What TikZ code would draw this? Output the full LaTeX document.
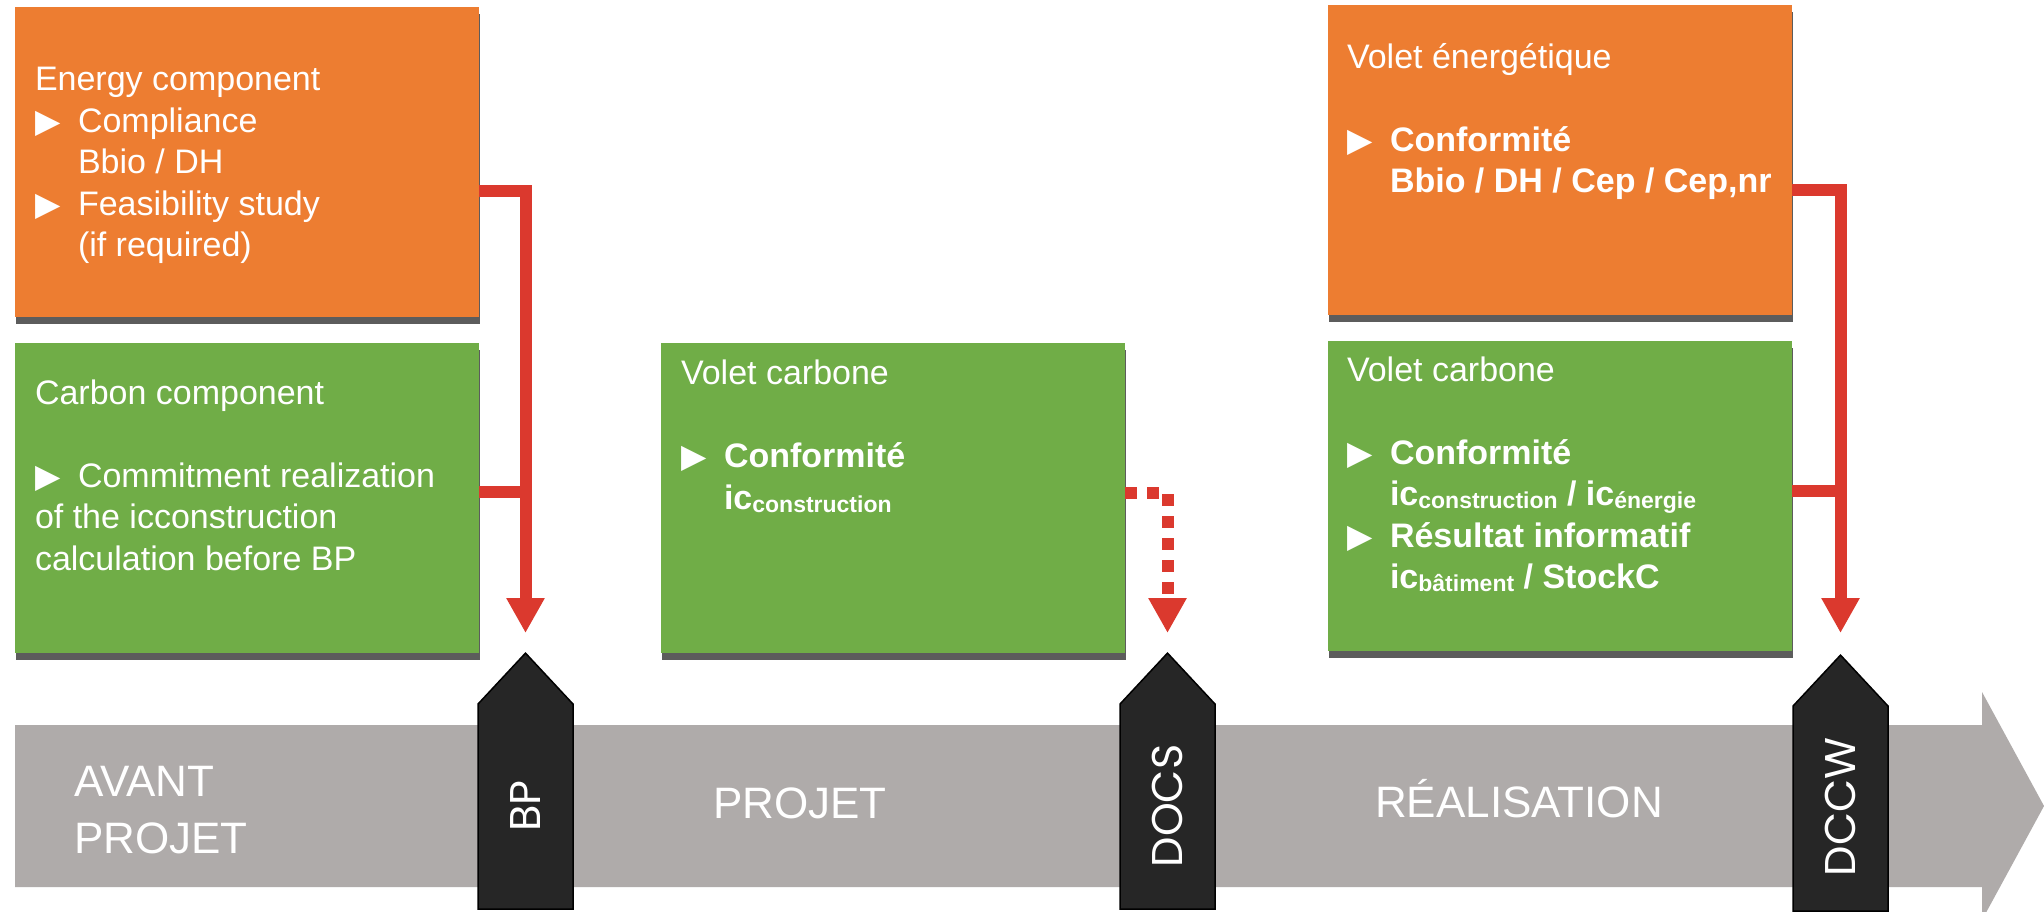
\documentclass[tikz,border=0pt]{standalone}
\usepackage{fontspec}
\setmainfont{Liberation Sans}
\newfontfamily\symfont{DejaVu Sans}
\newfontfamily\markerfont{Poppins}
\usetikzlibrary{arrows.meta,shapes.arrows,shadows}

\definecolor{BoxOrange}{RGB}{237,125,49}
\definecolor{BoxGreen}{RGB}{112,173,71}
\definecolor{LinkRed}{RGB}{219,57,46}
\definecolor{BarGrey}{RGB}{175,171,170}
\definecolor{MarkBlack}{RGB}{38,38,38}

\newcommand{\bul}{\makebox[43pt][l]{\symfont\fontsize{33}{33}\selectfont\char"25B6}}
\newcommand{\ind}{\hspace*{43pt}}
\newcommand{\icsub}[1]{ic\raisebox{-3pt}{\fontsize{23}{23}\selectfont #1}}

\begin{document}
\begin{tikzpicture}[x=1pt,y=-1pt,
	panel/.style={minimum width=464pt, minimum height=310pt, inner sep=0pt,
		drop shadow={shadow xshift=1pt, shadow yshift=-7pt, opacity=0.75, fill=black!85}},
	energypanel/.style={panel, fill=BoxOrange},
	carbonpanel/.style={panel, fill=BoxGreen},
	paneltext/.style={anchor=base west, align=left, inner sep=0pt, text=white,
		font=\fontsize{34}{41.5}\selectfont},
	milestone/.style={single arrow, single arrow head extend=0pt, single arrow tip angle=86,
		minimum height=256pt, minimum width=95pt, inner sep=0pt, fill=MarkBlack,
		draw=black, line width=1.5pt, rotate=90, anchor=tip},
	milestonetext/.style={rotate=90, inner sep=0pt, text=white,
		font=\markerfont\fontsize{43}{43}\selectfont},
	phasetext/.style={anchor=base west, align=left, inner sep=0pt, text=white,
		font=\fontsize{44}{57}\selectfont},
	link/.style={draw=LinkRed, line width=12pt},
	linkarrow/.style={link, -{Triangle[width=36pt,length=35pt]}},
	dottedlink/.style={linkarrow, dash pattern=on 12pt off 10pt}]

	\fill[white] (0,0) rectangle (2044,911);
	\useasboundingbox (0,0) rectangle (2044,911);

	% timeline bar
	\fill[BarGrey] (15,725) -- (1982,725) -- (1982,692) -- (2044,806)
		-- (1982,920) -- (1982,887) -- (15,887) -- cycle;
	\node[phasetext] (avant) at (74,853) {AVANT\\PROJET};
	\node[phasetext] (projet) at (713,818) {PROJET};
	\node[phasetext] (realisation) at (1375,817) {RÉALISATION};

	% milestones
	\node[milestone] (bp) at (525.5,652) {};
	\node[milestone] (docs) at (1167.5,652) {};
	\node[milestone] (dccw) at (1840.5,654) {};
	\node[milestonetext] (bplabel) at ([yshift=-154pt]bp.tip) {BP};
	\node[milestonetext] (docslabel) at ([yshift=-154pt]docs.tip) {DOCS};
	\node[milestonetext] (dccwlabel) at ([yshift=-153pt]dccw.tip) {DCCW};

	% panels (text anchored on the baseline of its last line)
	\node[energypanel] (energy) at (247,162) {};
	\node[carbonpanel] (carbon) at (247,497.5) {};
	\node[carbonpanel] (carbonprojet) at (893,497.5) {};
	\node[energypanel] (energie) at (1560,160) {};
	\node[carbonpanel] (carbonreal) at (1560,496) {};

	\node[paneltext] (energytext) at ([xshift=20pt,yshift=-250pt]energy.north west)
		{Energy component\\
		\bul Compliance\\
		\ind Bbio / DH\\
		\bul Feasibility study\\
		\ind (if required)};
	\node[paneltext] (carbontext) at ([xshift=20pt,yshift=-228pt]carbon.north west)
		{Carbon component\\[41.5pt]
		\bul Commitment realization\\
		of the icconstruction\\
		calculation before BP};
	\node[paneltext] (projettext) at ([xshift=20pt,yshift=-167pt]carbonprojet.north west)
		{Volet carbone\\[41.5pt]
		\bul\textbf{Conformité}\\
		\ind\textbf{\icsub{construction}}};
	\node[paneltext] (energietext) at ([xshift=19pt,yshift=-188pt]energie.north west)
		{Volet énergétique\\[41.5pt]
		\bul\textbf{Conformité}\\
		\ind\textbf{Bbio / DH / Cep / Cep,nr}};
	\node[paneltext] (realtext) at ([xshift=19pt,yshift=-248pt]carbonreal.north west)
		{Volet carbone\\[41.5pt]
		\bul\textbf{Conformité}\\
		\ind\textbf{\icsub{construction} / \icsub{énergie}}\\
		\bul\textbf{Résultat informatif}\\
		\ind\textbf{\icsub{bâtiment} / StockC}};

	% links to the milestones
	\coordinate (bpin) at ([yshift=19pt]bp.tip);
	\coordinate (docsin) at ([yshift=19pt]docs.tip);
	\coordinate (dccwin) at ([yshift=21pt]dccw.tip);
	\coordinate (energyout) at ([yshift=-29pt]energy.east);
	\coordinate (carbonout) at ([yshift=6pt]carbon.east);
	\coordinate (projetout) at ([yshift=5pt]carbonprojet.east);
	\coordinate (energieout) at ([yshift=-30pt]energie.east);
	\coordinate (realout) at ([yshift=5pt]carbonreal.east);

	\draw[linkarrow] (energyout) -| (bpin);
	\draw[link] (carbonout) -- (carbonout -| bpin);
	\draw[dottedlink] (projetout) -| (docsin);
	\draw[linkarrow] (energieout) -| (dccwin);
	\draw[link] (realout) -- (realout -| dccwin);
\end{tikzpicture}
\end{document}
